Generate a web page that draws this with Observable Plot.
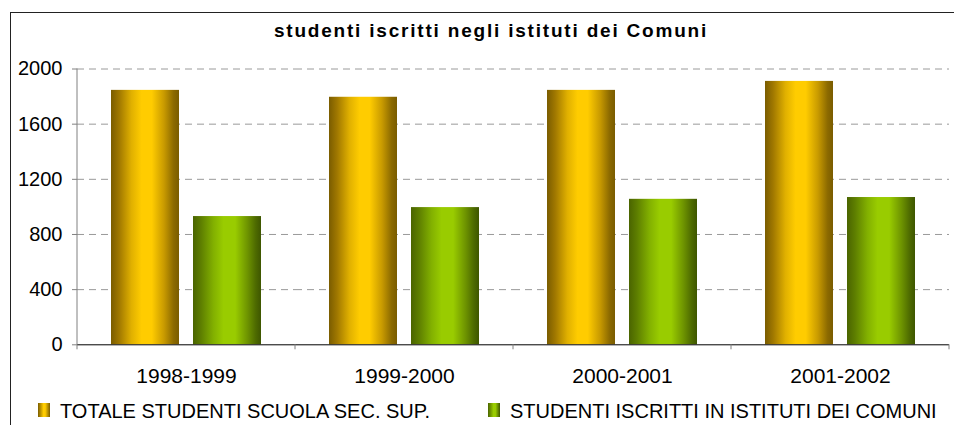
<!DOCTYPE html>
<html>
<head>
<meta charset="utf-8">
<script src="https://cdn.jsdelivr.net/npm/d3@7"></script>
<script src="https://cdn.jsdelivr.net/npm/@observablehq/plot@0.6"></script>
<style>
  html, body { margin: 0; padding: 0; background: #fff; }
  body { width: 954px; height: 425px; position: relative; overflow: hidden; font-family: "Liberation Sans", Arial, sans-serif; }
  #frame { position: absolute; left: 10px; top: 12px; width: 1000px; height: 500px; border-top: 1px solid #222; border-left: 1px solid #222; }
  #title { position: absolute; top: 21px; left: 491px; transform: translateX(-50%); font-size: 19px; font-weight: bold; line-height: 19px; letter-spacing: 1.8px; white-space: nowrap; color: #000; }
  #chart { position: absolute; left: 0; top: 50px; }
  .leg { position: absolute; top: 401px; font-size: 20px; line-height: 20px; white-space: nowrap; color: #000; }
  .sw { position: absolute; top: 403px; width: 12px; height: 14px; }
</style>
</head>
<body>
<div id="frame"></div>
<div id="title"></div>
<div id="chart"></div>
<div id="legend"></div>
<script>
const titleText = "studenti iscritti negli istituti dei Comuni";
const categories = ["1998-1999", "1999-2000", "2000-2001", "2001-2002"];
const seriesNames = ["TOTALE STUDENTI SCUOLA SEC. SUP.", "STUDENTI ISCRITTI IN ISTITUTI DEI COMUNI"];
const totale = [1845, 1795, 1845, 1910];
const comuni = [930, 995, 1055, 1068];
const yTicks = [0, 400, 800, 1200, 1600, 2000];

const data = [];
categories.forEach((c, i) => {
  data.push({category: c, series: seriesNames[0], value: totale[i]});
  data.push({category: c, series: seriesNames[1], value: comuni[i]});
});

document.getElementById("title").textContent = titleText;

const chart = Plot.plot({
  width: 954,
  height: 345,
  marginLeft: 77,
  marginRight: 5,
  marginTop: 18.5,
  marginBottom: 50.7,
  style: {fontFamily: "'Liberation Sans', Arial, sans-serif", fontSize: "20px", background: "transparent", color: "#000"},
  fx: {domain: categories, padding: 0, label: null},
  x: {domain: seriesNames, paddingInner: 0.1707, paddingOuter: 0.4146, align: 0.5, axis: null},
  y: {domain: [0, 2000]},
  color: {domain: seriesNames, range: ["url(#gradY)", "url(#gradG)"]},
  marks: [
    Plot.gridY(yTicks.filter(d => d > 0), {stroke: "#9a9a9a", strokeOpacity: 1, strokeDasharray: "7,5"}),
    Plot.barY(data, {fx: "category", x: "series", y: "value", fill: "series"}),
    Plot.ruleY([0], {stroke: "#000", strokeWidth: 1}),
    Plot.axisY(yTicks, {tickSize: 5, tickPadding: 10, stroke: "#808080", fill: "#000", fontSize: 20, label: null, tickFormat: d => String(d)}),
    Plot.axisFx({anchor: "bottom", tickSize: 0, tickPadding: 23, fontSize: 21, fill: "#000", label: null})
  ]
});

// gradients for cylindrical bars
const svg = d3.select(chart);
const defs = svg.insert("defs", ":first-child");
function grad(id, stops) {
  const g = defs.append("linearGradient").attr("id", id).attr("x1", "0").attr("x2", "1").attr("y1", "0").attr("y2", "0");
  stops.forEach(([o, c]) => g.append("stop").attr("offset", o).attr("stop-color", c));
}
grad("gradY", [[0, "#7a5c00"], [0.12, "#a07800"], [0.3, "#e0b000"], [0.45, "#ffcc00"], [0.6, "#ffcc00"], [0.78, "#c89a00"], [0.92, "#8c6a00"], [1, "#7a5c00"]]);
grad("gradG", [[0, "#4a6400"], [0.12, "#5e7f00"], [0.3, "#82b000"], [0.45, "#99cc00"], [0.62, "#99cc00"], [0.8, "#6e9400"], [0.92, "#4e6b00"], [1, "#3e5600"]]);

// y axis line and category separator ticks, from the library's scales
const fx = chart.scale("fx");
const y = chart.scale("y");
const x0 = fx.apply(categories[0]);
const bw = fx.bandwidth;
const y0 = y.apply(0);
const g = svg.append("g").attr("stroke", "#808080").attr("stroke-width", 1);
g.append("line").attr("x1", x0).attr("x2", x0).attr("y1", y.apply(2000)).attr("y2", y0);
const edges = categories.map(c => fx.apply(c)).concat([fx.apply(categories[categories.length - 1]) + bw]);
edges.forEach(e => g.append("line").attr("x1", e).attr("x2", e).attr("y1", y0).attr("y2", y0 + 5));

document.getElementById("chart").appendChild(chart);

// legend
const legend = document.getElementById("legend");
const legendPos = [{sw: 38, tx: 60}, {sw: 488, tx: 510}];
const swatchBg = [
  "linear-gradient(to right, #7a5c00, #ffcc00 45%, #ffcc00 60%, #7a5c00)",
  "linear-gradient(to right, #4a6400, #99cc00 45%, #99cc00 62%, #3e5600)"
];
seriesNames.forEach((s, i) => {
  const sw = document.createElement("div");
  sw.className = "sw";
  sw.style.left = legendPos[i].sw + "px";
  sw.style.background = swatchBg[i];
  legend.appendChild(sw);
  const t = document.createElement("div");
  t.className = "leg";
  t.style.left = legendPos[i].tx + "px";
  t.textContent = s;
  legend.appendChild(t);
});
</script>
</body>
</html>
